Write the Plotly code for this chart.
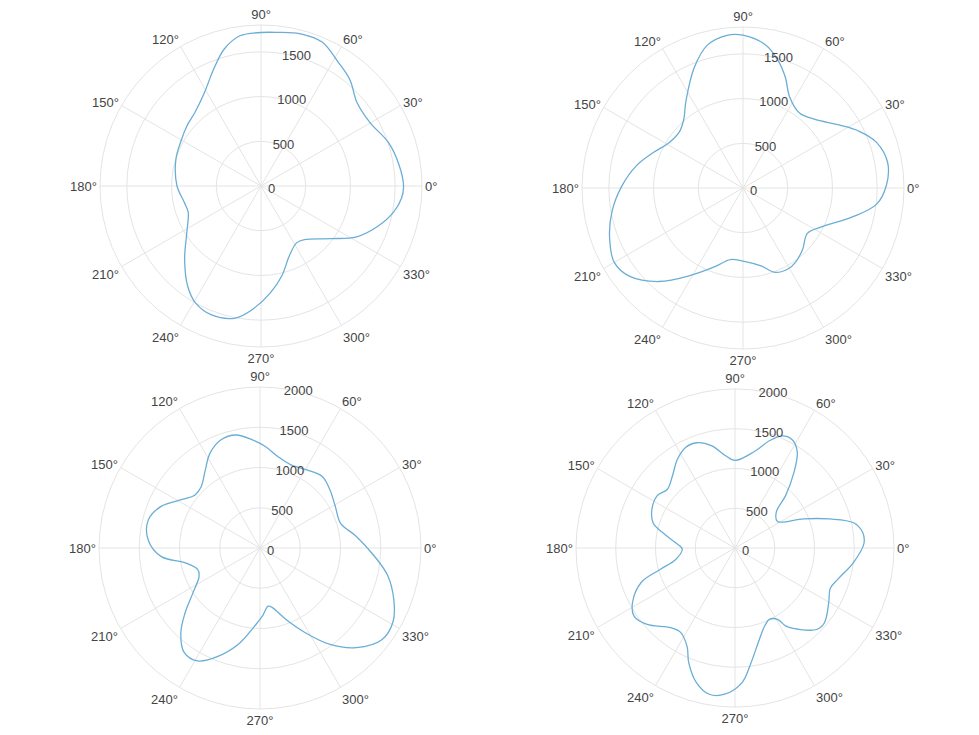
import plotly.graph_objects as go

# Panel A (top left)
theta_a = [0, 9, 19, 30, 41, 50, 58, 67, 75, 84, 90, 98, 105, 112, 121, 132, 141, 150,
           163, 180, 192, 200, 212, 224, 234, 241, 249, 259, 266, 275, 283, 292, 302,
           309, 323, 332, 341, 349, 355]
r_a = [1594, 1560, 1504, 1410, 1422, 1548, 1631, 1748, 1759, 1727, 1716, 1696, 1586, 1411,
       1224, 1105, 1066, 1028, 996, 939, 877, 866, 978, 1187, 1392, 1501, 1544, 1504, 1384,
       1199, 1032, 844, 750, 771, 979, 1210, 1382, 1512, 1577]

# Panel B (top right)
theta_b = [1, 10, 19, 26, 33, 44, 53, 63, 69, 75, 81, 90, 96, 104, 112, 123, 131, 139, 149,
           158, 168, 179, 190, 200, 210, 218, 228, 239, 251, 260, 270, 283, 291, 299, 305,
           314, 325, 334, 345, 353]
r_b = [1603, 1642, 1576, 1446, 1290, 1107, 1050, 1146, 1323, 1488, 1619, 1709, 1717, 1646,
       1454, 1169, 1011, 947, 973, 1072, 1215, 1354, 1486, 1588, 1662, 1606, 1407, 1140,
       924, 812, 818, 894, 1011, 1036, 1018, 958, 880, 986, 1259, 1503]

# Panel C (bottom left)
theta_c = [7, 17, 29, 40, 49, 59, 70, 79, 87, 94, 102, 110, 118, 125, 134, 141, 148, 157,
           166, 176, 185, 191, 199, 205, 214, 221, 227, 234, 241, 249, 258, 266, 272, 278,
           282, 290, 298, 306, 314, 323, 331, 339, 348, 356]
r_c = [1203, 1047, 1069, 1132, 1178, 1131, 1103, 1158, 1262, 1346, 1435, 1427, 1328, 1184,
       1054, 1043, 1138, 1330, 1431, 1391, 1230, 953, 819, 835, 1008, 1235, 1442, 1603,
       1604, 1439, 1206, 973, 848, 729, 761, 945, 1188, 1481, 1721, 1895, 1890, 1780,
       1619, 1423]

# Panel D (bottom right)
theta_d = [2, 7, 12, 17, 23, 32, 41, 46, 52, 57, 62, 67, 72, 79, 90, 96, 103, 110, 116, 123,
           131, 139, 146, 155, 163, 168, 175, 181, 191, 196, 200, 208, 214, 221, 231, 237,
           244, 248, 254, 260, 266, 273, 278, 285, 291, 296, 301, 303, 308, 315, 320, 330,
           337, 343, 353]
r_d = [1623, 1617, 1525, 1249, 939, 630, 688, 916, 1203, 1438, 1539, 1531, 1422, 1230, 1101,
       1170, 1321, 1409, 1410, 1330, 1200, 1126, 1179, 1153, 1076, 932, 750, 664, 760, 980,
       1251, 1460, 1532, 1465, 1288, 1262, 1376, 1554, 1761, 1868, 1844, 1695, 1456, 1187,
       1047, 996, 1050, 1167, 1297, 1450, 1467, 1362, 1301, 1351, 1501]

angle_ticks = list(range(0, 360, 30))
angle_labels = [f"{a}°" for a in angle_ticks]
radial_ticks_top = [0, 500, 1000, 1500]
radial_ticks_bottom = [0, 500, 1000, 1500, 2000]

LINE = "#6aaed6"
GRID = "#e4e4e4"
TEXT = "#444444"

panels = [
    ("polar", theta_a, r_a),
    ("polar2", theta_b, r_b),
    ("polar3", theta_c, r_c),
    ("polar4", theta_d, r_d),
]

fig = go.Figure()
for name, th, rr in panels:
    fig.add_trace(go.Scatterpolar(
        theta=th + [th[0]], r=rr + [rr[0]], mode="lines",
        line=dict(color=LINE, width=1.3, shape="spline", smoothing=1),
        subplot=name, hoverinfo="skip", showlegend=False,
    ))

W, H = 979, 735
RADIAL_ANGLE = 84


def dom(cx, cy, rad):
    return dict(x=[(cx - rad) / W, (cx + rad) / W],
                y=[1 - (cy + rad) / H, 1 - (cy - rad) / H])


def polar_layout(d, rmax, rticks):
    return dict(
        domain=d,
        bgcolor="white",
        angularaxis=dict(
            tickmode="array", tickvals=angle_ticks, ticktext=angle_labels,
            direction="counterclockwise", rotation=0,
            gridcolor=GRID, linecolor=GRID, showline=True, ticks="",
            tickfont=dict(size=13, color=TEXT),
        ),
        radialaxis=dict(
            range=[0, rmax], tickmode="array", tickvals=rticks,
            angle=RADIAL_ANGLE, tickangle=RADIAL_ANGLE, side="clockwise",
            showline=False, ticks="", gridcolor=GRID,
            tickfont=dict(size=13, color=TEXT),
        ),
    )


fig.update_layout(
    width=W, height=H,
    margin=dict(l=0, r=0, t=0, b=0),
    paper_bgcolor="white",
    plot_bgcolor="white",
    font=dict(family="Liberation Sans, Arial, sans-serif", size=13, color=TEXT),
    showlegend=False,
    polar=polar_layout(dom(261, 186, 161), 1800, radial_ticks_top),
    polar2=polar_layout(dom(743, 188, 161), 1800, radial_ticks_top),
    polar3=polar_layout(dom(260, 548, 161), 2000, radial_ticks_bottom),
    polar4=polar_layout(dom(735, 548, 159), 2000, radial_ticks_bottom),
)

fig.write_html("out.html")
